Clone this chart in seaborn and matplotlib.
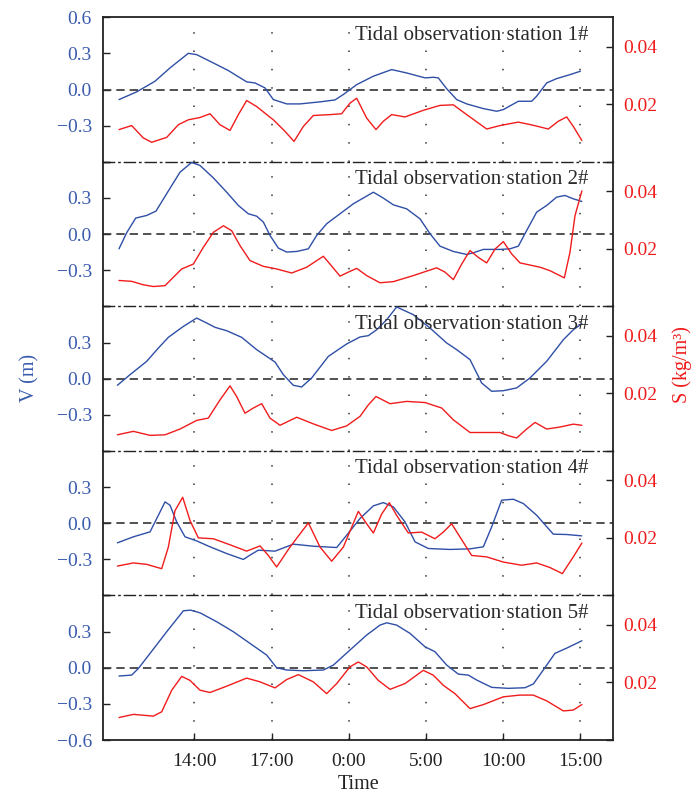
import numpy as np
import pandas as pd
import matplotlib
matplotlib.use("Agg")
import matplotlib.pyplot as plt
import seaborn as sns

# ---------------- data ----------------
tick_pos = [1, 2, 3, 4, 5, 6]
tick_labels = ["14:00", "17:00", "0:00", "5:00", "10:00", "15:00"]
stations = ["Tidal observation station 1#", "Tidal observation station 2#",
            "Tidal observation station 3#", "Tidal observation station 4#",
            "Tidal observation station 5#"]

# station 1
v1_t = [0.024, 0.253, 0.49, 0.685, 0.922, 1.03, 1.246, 1.44, 1.678, 1.786, 1.915, 2.023, 2.196, 2.369,
        2.628, 2.822, 2.93, 3.103, 3.319, 3.556, 3.75, 3.988, 4.096, 4.16, 4.268, 4.398, 4.528, 4.744,
        4.917, 5.003, 5.197, 5.37, 5.434, 5.564, 5.693, 5.866, 6.0]
v1 = [-0.083, -0.019, 0.069, 0.18, 0.301, 0.29, 0.221, 0.158, 0.064, 0.055, 0.014, -0.083, -0.119, -0.119,
      -0.102, -0.086, -0.041, 0.041, 0.111, 0.166, 0.138, 0.097, 0.102, 0.097, 0.008, -0.083, -0.119, -0.158,
      -0.18, -0.166, -0.097, -0.097, -0.055, 0.055, 0.091, 0.124, 0.152]
s1_t = [0.024, 0.188, 0.339, 0.447, 0.642, 0.793, 0.922, 1.073, 1.203, 1.332, 1.462, 1.57, 1.678, 1.807,
        2.023, 2.174, 2.291, 2.412, 2.541, 2.757, 2.908, 3.016, 3.103, 3.232, 3.353, 3.448, 3.556, 3.729,
        3.966, 4.182, 4.355, 4.528, 4.787, 4.959, 5.197, 5.391, 5.585, 5.715, 5.823, 5.909, 6.02]
s1 = [0.0112, 0.0126, 0.0083, 0.0068, 0.0085, 0.0129, 0.0146, 0.0154, 0.0167, 0.0129, 0.0109, 0.0164,
      0.0213, 0.0192, 0.0146, 0.0106, 0.0071, 0.0123, 0.0161, 0.0164, 0.0167, 0.0204, 0.0221, 0.0152,
      0.0112, 0.0141, 0.0164, 0.0156, 0.0179, 0.0196, 0.0198, 0.0164, 0.0114, 0.0126, 0.0138, 0.0127,
      0.0114, 0.0141, 0.0156, 0.0123, 0.0074]

# station 2
v2_t = [0.024, 0.123, 0.24, 0.383, 0.503, 0.641, 0.814, 0.965, 1.073, 1.246, 1.419, 1.57, 1.699, 1.807,
        1.894, 1.98, 2.088, 2.196, 2.326, 2.477, 2.585, 2.714, 2.887, 3.06, 3.319, 3.448, 3.578, 3.75,
        3.923, 4.053, 4.182, 4.355, 4.528, 4.614, 4.744, 4.959, 5.089, 5.197, 5.305, 5.434, 5.564, 5.693,
        5.801, 5.909, 6.02]
v2 = [-0.122, 0.011, 0.133, 0.155, 0.191, 0.335, 0.514, 0.595, 0.57, 0.467, 0.348, 0.238, 0.169, 0.149,
      0.1, -0.011, -0.116, -0.149, -0.144, -0.122, -0.011, 0.086, 0.169, 0.252, 0.348, 0.299, 0.243, 0.21,
      0.127, 0.003, -0.1, -0.144, -0.169, -0.155, -0.127, -0.127, -0.122, -0.1, 0.03, 0.182, 0.238, 0.307,
      0.321, 0.293, 0.271]
s2_t = [0.024, 0.188, 0.339, 0.469, 0.62, 0.728, 0.836, 0.987, 1.116, 1.246, 1.376, 1.483, 1.592, 1.721,
        1.894, 2.066, 2.261, 2.455, 2.671, 2.757, 2.887, 2.995, 3.103, 3.232, 3.405, 3.578, 3.837, 4.139,
        4.247, 4.355, 4.463, 4.571, 4.679, 4.787, 4.895, 5.003, 5.111, 5.219, 5.478, 5.607, 5.793, 5.866,
        5.931, 6.02]
s2 = [0.0090, 0.0087, 0.0075, 0.0069, 0.0072, 0.0101, 0.0130, 0.0147, 0.0205, 0.0257, 0.0280, 0.0263,
      0.0211, 0.0159, 0.0139, 0.0130, 0.0116, 0.0136, 0.0174, 0.0147, 0.0105, 0.0119, 0.0132, 0.0107,
      0.0082, 0.0086, 0.0107, 0.0134, 0.0119, 0.0093, 0.0147, 0.0194, 0.0170, 0.0151, 0.0199, 0.0225,
      0.0182, 0.0151, 0.0136, 0.0124, 0.0099, 0.0188, 0.0315, 0.0401]

# station 3
v3_t = [0.003, 0.167, 0.383, 0.534, 0.663, 0.858, 1.03, 1.16, 1.268, 1.419, 1.613, 1.807, 2.045, 2.153,
        2.282, 2.39, 2.52, 2.736, 2.973, 3.146, 3.254, 3.362, 3.491, 3.621, 3.837, 4.053, 4.269, 4.398,
        4.571, 4.722, 4.852, 5.003, 5.175, 5.348, 5.564, 5.78, 5.909, 6.02]
v3 = [-0.055, 0.033, 0.144, 0.254, 0.343, 0.434, 0.503, 0.462, 0.426, 0.398, 0.343, 0.241, 0.138, 0.033,
      -0.055, -0.069, 0.006, 0.185, 0.288, 0.346, 0.357, 0.406, 0.489, 0.595, 0.531, 0.42, 0.296, 0.241,
      0.158, -0.036, -0.105, -0.1, -0.077, 0.006, 0.144, 0.323, 0.406, 0.456]
s3_t = [0.003, 0.21, 0.426, 0.62, 0.814, 1.03, 1.181, 1.332, 1.462, 1.548, 1.656, 1.764, 1.872, 1.98,
        2.11, 2.326, 2.541, 2.779, 2.973, 3.146, 3.254, 3.353, 3.535, 3.75, 3.988, 4.204, 4.355, 4.571,
        4.959, 5.067, 5.175, 5.305, 5.413, 5.564, 5.737, 5.909, 6.02]
s3 = [0.0056, 0.0068, 0.0054, 0.0056, 0.0076, 0.0106, 0.0114, 0.0177, 0.0226, 0.0189, 0.0131, 0.0149,
      0.0164, 0.0114, 0.0089, 0.0117, 0.0094, 0.0071, 0.0087, 0.0120, 0.0160, 0.0189, 0.0164, 0.0172,
      0.0168, 0.0149, 0.0108, 0.0064, 0.0064, 0.0053, 0.0045, 0.0076, 0.0099, 0.0076, 0.0083, 0.0093,
      0.0089]

# station 4
v4_t = [0.003, 0.21, 0.426, 0.534, 0.62, 0.685, 0.771, 0.879, 1.03, 1.203, 1.419, 1.635, 1.721, 1.829,
        2.045, 2.282, 2.541, 2.844, 2.973, 3.146, 3.319, 3.448, 3.578, 3.729, 3.859, 4.031, 4.312, 4.571,
        4.744, 4.852, 4.981, 5.132, 5.262, 5.434, 5.65, 5.823, 6.017]
v4 = [-0.163, -0.113, -0.072, 0.066, 0.177, 0.149, 0.011, -0.113, -0.147, -0.196, -0.252, -0.301, -0.265,
      -0.224, -0.232, -0.174, -0.191, -0.202, -0.1, 0.039, 0.144, 0.171, 0.135, 0.011, -0.155, -0.21,
      -0.218, -0.213, -0.196, -0.03, 0.191, 0.199, 0.163, 0.066, -0.091, -0.094, -0.105]
s4_t = [0.003, 0.21, 0.383, 0.577, 0.663, 0.75, 0.849, 0.944, 1.052, 1.246, 1.462, 1.678, 1.851, 1.958,
        2.066, 2.239, 2.477, 2.628, 2.779, 2.93, 3.124, 3.232, 3.319, 3.427, 3.526, 3.621, 3.772, 3.945,
        4.117, 4.225, 4.333, 4.441, 4.592, 4.787, 5.003, 5.24, 5.434, 5.607, 5.767, 5.909, 6.02]
s4 = [0.0102, 0.0113, 0.0108, 0.0093, 0.0168, 0.0295, 0.0341, 0.0260, 0.0200, 0.0197, 0.0176, 0.0154,
      0.0172, 0.0139, 0.0099, 0.0168, 0.0252, 0.0168, 0.0119, 0.0168, 0.0292, 0.0249, 0.0217, 0.0283,
      0.0322, 0.0278, 0.0217, 0.0220, 0.0197, 0.0220, 0.0249, 0.0203, 0.0139, 0.0134, 0.0116, 0.0105,
      0.0113, 0.0097, 0.0076, 0.0134, 0.0182]

# station 5
v5_t = [0.024, 0.188, 0.275, 0.426, 0.642, 0.858, 0.952, 1.073, 1.289, 1.505, 1.721, 1.937, 2.066, 2.196,
        2.412, 2.671, 2.801, 3.016, 3.232, 3.405, 3.491, 3.621, 3.794, 3.988, 4.117, 4.269, 4.42, 4.549,
        4.657, 4.852, 5.067, 5.283, 5.391, 5.52, 5.671, 5.844, 6.02]
v5 = [-0.069, -0.061, -0.006, 0.119, 0.299, 0.473, 0.478, 0.456, 0.382, 0.299, 0.202, 0.105, 0.0, -0.019,
      -0.025, -0.019, 0.022, 0.147, 0.271, 0.354, 0.373, 0.354, 0.285, 0.174, 0.133, 0.022, -0.053, -0.061,
      -0.102, -0.163, -0.171, -0.166, -0.135, -0.019, 0.119, 0.169, 0.224]
s5_t = [0.024, 0.21, 0.469, 0.577, 0.707, 0.836, 0.944, 1.073, 1.203, 1.419, 1.678, 1.851, 2.045, 2.196,
        2.347, 2.541, 2.714, 2.844, 3.016, 3.124, 3.232, 3.383, 3.535, 3.729, 3.966, 4.096, 4.225, 4.376,
        4.571, 4.744, 5.003, 5.219, 5.391, 5.564, 5.78, 5.909, 6.02]
s5 = [0.0078, 0.0089, 0.0083, 0.0098, 0.0173, 0.0221, 0.0207, 0.0173, 0.0165, 0.0187, 0.0215, 0.0202,
      0.0181, 0.0210, 0.0227, 0.0202, 0.0161, 0.0196, 0.0254, 0.0271, 0.0254, 0.0207, 0.0176, 0.0196,
      0.0242, 0.0225, 0.0190, 0.0161, 0.0109, 0.0123, 0.0150, 0.0156, 0.0156, 0.0136, 0.0101, 0.0104,
      0.0123]

V_series = [(v1_t, v1), (v2_t, v2), (v3_t, v3), (v4_t, v4), (v5_t, v5)]
S_series = [(s1_t, s1), (s2_t, s2), (s3_t, s3), (s4_t, s4), (s5_t, s5)]

# ---------------- style ----------------
sns.set_theme(style="white")
plt.rcParams["font.family"] = ["Liberation Serif", "DejaVu Serif"]
plt.rcParams["axes.unicode_minus"] = True

BLUE_LINE = "#2F4FA6"
BLUE_TXT = "#3A5BAE"
RED = "#F01C1C"
DARK = "#222222"

fig = plt.figure(figsize=(6.91, 7.97), dpi=100)
left, width = 0.1491, 0.7381
top, total_h = 0.97829, 0.90678
ph = total_h / 5

for k in range(5):
    ax = fig.add_axes([left, top - (k + 1) * ph, width, ph])
    ax2 = ax.twinx()
    ax.set_facecolor("none")

    tv, vv = V_series[k]
    ts, ss = S_series[k]
    sns.lineplot(x=tv, y=vv, ax=ax, color=BLUE_LINE, lw=1.0, estimator=None, sort=False)
    sns.lineplot(x=ts, y=ss, ax=ax2, color=RED, lw=1.0, estimator=None, sort=False)

    ax.set_xlim(-0.183, 6.424)
    ax.set_ylim(-0.6, 0.6)
    ax2.set_ylim(0.0, 0.0502)

    # reference lines
    ax.axhline(0, color="#333333", lw=1.2, ls=(0, (5, 3)), zorder=1)
    for p in tick_pos:
        ax.axvline(p, color="#333333", lw=1.1, ls=(0, (1, 11)), zorder=0)

    # y ticks (left)
    ax.set_yticks([-0.6, -0.3, 0.0, 0.3, 0.6])
    lab = ["", "\u22120.3", "0.0", "0.3", ""]
    if k == 0:
        lab[4] = "0.6"
    if k == 4:
        lab[0] = "\u22120.6"
    ax.set_yticklabels(lab)
    ax.tick_params(axis="y", direction="in", length=5, width=1.0, colors=DARK,
                   labelcolor=BLUE_TXT, labelsize=14, pad=8, left=True, right=False)

    # right ticks
    ax2.set_yticks([0.0, 0.02, 0.04])
    ax2.set_yticklabels(["", "0.02", "0.04"])
    ax2.tick_params(axis="y", direction="in", length=5, width=1.0, colors=DARK,
                    labelcolor=RED, labelsize=14, pad=7, right=True, left=False)

    # x ticks
    ax.set_xticks(tick_pos)
    if k == 4:
        ax.set_xticklabels(tick_labels)
        ax.tick_params(axis="x", direction="in", length=5, width=1.0, colors=DARK,
                       labelcolor=DARK, labelsize=14, pad=9, bottom=True)
    else:
        ax.set_xticklabels([])
        ax.tick_params(axis="x", bottom=False, labelbottom=False)
    ax.set_xlabel("")
    ax.set_ylabel("")
    ax2.set_ylabel("")

    # spines
    for sp in ax2.spines.values():
        sp.set_visible(False)
    ax2.spines["right"].set_visible(True)
    ax2.spines["right"].set_color(DARK)
    ax2.spines["right"].set_linewidth(1.3)
    ax.spines["right"].set_visible(False)
    for name in ["left", "top", "bottom"]:
        ax.spines[name].set_color(DARK)
        ax.spines[name].set_linewidth(1.3)
    if k > 0:
        ax.spines["top"].set_visible(False)
    if k < 4:
        ax.spines["bottom"].set_linestyle((0, (8, 3, 1, 3)))
        ax.spines["bottom"].set_linewidth(1.0)

    ax.text(0.951, 0.875, stations[k], transform=ax.transAxes, ha="right", va="center",
            fontsize=15, color="#2a2a2a", zorder=5)

fig.text(0.5192, 3 / 797, "Time", ha="center", va="bottom", fontsize=14.5, color=DARK)
fig.text(30 / 691, 1 - 378 / 797, "V (m)", rotation=90, ha="center", va="center",
         fontsize=14.5, color=BLUE_TXT)
fig.text(682 / 691, 1 - 365 / 797, "S (kg/m\u00b3)", rotation=90, ha="center", va="center",
         fontsize=14.5, color=RED)

fig.savefig("out.png", dpi=100)
